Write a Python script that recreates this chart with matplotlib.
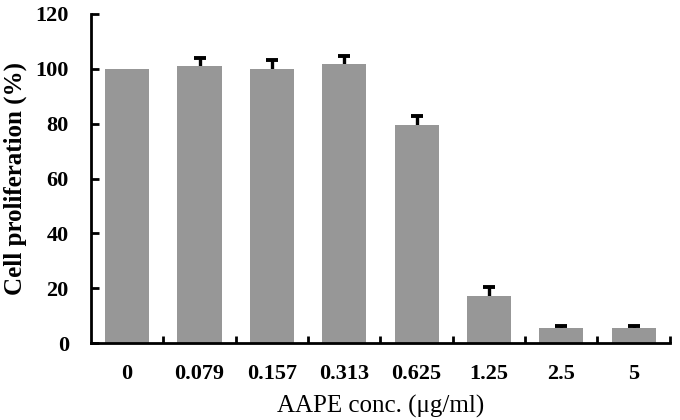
"""Cell proliferation bar chart for AAPE concentrations."""

import numpy as np
import matplotlib
matplotlib.use("Agg")
import matplotlib.pyplot as plt

concentrations = ["0", "0.079", "0.157", "0.313", "0.625", "1.25", "2.5", "5"]
proliferation = [100, 101.1, 100, 101.8, 79.5, 17.3, 5.4, 5.4]
errors = [0, 3.0, 3.1, 2.9, 3.3, 3.0, 0.8, 0.8]

plt.rcParams['font.family'] = ['Liberation Serif', 'DejaVu Serif']

fig = plt.figure(figsize=(6.8, 4.2), dpi=100)
ax = fig.add_axes([0.1338, 0.1833, 0.8512, 0.7834])

x = np.arange(len(concentrations))
vals = np.array(proliferation)
errs = np.array(errors)
ax.bar(x, vals, width=0.61, color='#979797', zorder=2)

# only bars with a measured spread get an error bar; lower half hides behind the bar
has_err = errs > 0
ax.errorbar(x[has_err], vals[has_err], yerr=errs[has_err],
            fmt='none', ecolor='black', elinewidth=2.4, capsize=4, capthick=2.8,
            zorder=1)

ax.set_xlim(-0.5, len(concentrations) - 0.5)
ax.set_ylim(0, 120)
ax.set_yticks(np.arange(0, 121, 20))

# tick marks sit between bars, labels sit under bars
ax.set_xticks(x + 0.5)
ax.set_xticklabels([])
ax.set_xticks(x, labels=concentrations, minor=True)
ax.tick_params(axis='x', which='major', direction='in', length=5, width=2)
ax.tick_params(axis='x', which='minor', length=0, pad=15, labelsize=16)
for lbl in ax.get_xticklabels(minor=True):
    lbl.set_fontweight('bold')

ax.tick_params(axis='y', direction='in', length=6, width=2, pad=16, labelsize=16)
for lbl in ax.get_yticklabels():
    lbl.set_fontweight('bold')

ax.spines[["top", "right"]].set_visible(False)
ax.spines["left"].set_linewidth(2)
ax.spines["bottom"].set_linewidth(2)

ax.set_ylabel("Cell proliferation (%)", fontsize=18, fontweight='bold', labelpad=6)
ax.set_xlabel("AAPE conc. (\u03bcg/ml)", fontsize=18, labelpad=8)

fig.savefig("out.png", dpi=100)
